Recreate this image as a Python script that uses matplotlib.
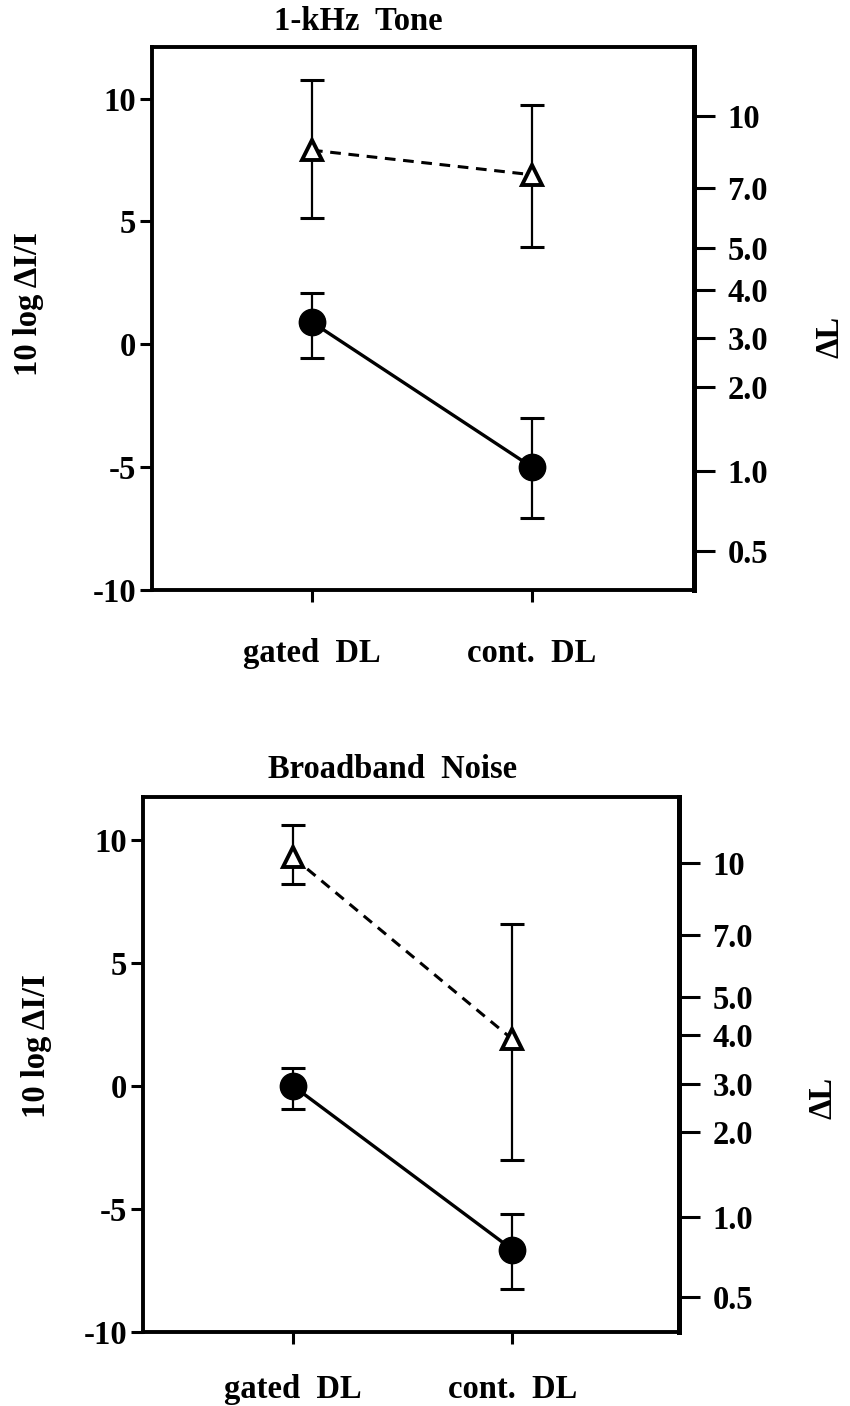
import matplotlib
matplotlib.use("Agg")
import matplotlib.pyplot as plt

# ---------------- data ----------------
categories = ["gated  DL", "cont.  DL"]
x_pos = [0, 1]

panel_titles = ["1-kHz  Tone", "Broadband  Noise"]

# 1-kHz tone
tone_open_mean = [7.9, 6.9]
tone_open_lo = [5.15, 3.95]
tone_open_hi = [10.75, 9.75]
tone_filled_mean = [0.9, -5.0]
tone_filled_lo = [-0.55, -7.05]
tone_filled_hi = [2.1, -3.0]

# broadband noise
noise_open_mean = [9.3, 1.9]
noise_open_lo = [8.2, -3.0]
noise_open_hi = [10.6, 6.6]
noise_filled_mean = [0.0, -6.65]
noise_filled_lo = [-0.95, -8.25]
noise_filled_hi = [0.75, -5.2]

left_ticks = [-10, -5, 0, 5, 10]
left_labels = ["-10", "-5", "0", "5", "10"]

right_labels = ["0.5", "1.0", "2.0", "3.0", "4.0", "5.0", "7.0", "10"]
right_pos_tone = [-8.41, -5.15, -1.73, 0.26, 2.22, 3.93, 6.37, 9.31]
right_pos_noise = [-8.58, -5.33, -1.87, 0.08, 2.07, 3.62, 6.14, 9.07]

ylabel_left = "10 log ΔI/I"
ylabel_right = "ΔL"

# ---------------- figure ----------------
W, H = 850, 1406
fig = plt.figure(figsize=(W / 100, H / 100), dpi=100)
FONT = "Liberation Serif"
FS = 23.5


def box(l, r, t, b):
    return [l / W, 1 - b / H, (r - l) / W, (b - t) / H]


def ftext(x, y, s, **kw):
    fig.text(x / W, 1 - y / H, s, fontfamily=FONT, fontweight="bold",
             fontsize=FS, ha="center", va="center", **kw)


def draw_panel(rect, xlim, ylim, om, olo, ohi, fm, flo, fhi, rpos, xpad):
    ax = fig.add_axes(rect)
    # error bars
    for m, lo, hi in ((om, olo, ohi), (fm, flo, fhi)):
        yerr = [[mm - l for mm, l in zip(m, lo)], [h - mm for mm, h in zip(m, hi)]]
        ax.errorbar(x_pos, m, yerr=yerr, fmt="none", ecolor="black",
                    elinewidth=1.6, capsize=8.5, capthick=2.2, zorder=2)
    # lines
    ax.plot(x_pos, om, color="black", lw=2.2, ls=(0, (3.5, 2.5)), zorder=3)
    ax.plot(x_pos, fm, color="black", lw=2.4, ls="-", zorder=3)
    # markers
    ax.plot(x_pos, om, ls="none", marker="^", ms=15, mfc="white",
            mec="black", mew=2.8, zorder=4)
    ax.plot(x_pos, fm, ls="none", marker="o", ms=19, mfc="black",
            mec="black", zorder=4)

    ax.set_xlim(*xlim)
    ax.set_ylim(*ylim)
    ax.set_yticks(left_ticks)
    ax.set_yticklabels(left_labels)
    ax.set_xticks(x_pos)
    ax.set_xticklabels(categories)
    ax.tick_params(axis="y", direction="out", length=8.5, width=2.2, pad=3,
                   labelsize=FS)
    ax.tick_params(axis="x", direction="out", length=8.5, width=2.2, pad=xpad,
                   labelsize=FS)
    for lab in ax.get_xticklabels() + ax.get_yticklabels():
        lab.set_fontfamily(FONT)
        lab.set_fontweight("bold")
    for s in ("left", "top", "bottom"):
        ax.spines[s].set_linewidth(2.8)
    ax.spines["right"].set_visible(False)

    ax2 = ax.twinx()
    ax2.set_ylim(*ylim)
    ax2.set_yticks(rpos)
    ax2.set_yticklabels(right_labels)
    ax2.tick_params(axis="y", direction="out", length=15, width=2.2, pad=9,
                    labelsize=FS)
    for lab in ax2.get_yticklabels():
        lab.set_fontfamily(FONT)
        lab.set_fontweight("bold")
    for s in ("left", "top", "bottom"):
        ax2.spines[s].set_visible(False)
    ax2.spines["right"].set_linewidth(3.6)
    return ax


draw_panel(box(152, 694, 47, 590), (-0.727, 1.736), (-10, 12.1),
           tone_open_mean, tone_open_lo, tone_open_hi,
           tone_filled_mean, tone_filled_lo, tone_filled_hi, right_pos_tone, 26)
draw_panel(box(143, 679, 797, 1332), (-0.685, 1.76), (-10, 11.75),
           noise_open_mean, noise_open_lo, noise_open_hi,
           noise_filled_mean, noise_filled_lo, noise_filled_hi, right_pos_noise, 22)

ftext(358, 22, panel_titles[0])
ftext(393, 770, panel_titles[1])
ftext(29, 304, ylabel_left, rotation=90)
ftext(37, 1046, ylabel_left, rotation=90)
ftext(830, 337, ylabel_right, rotation=90)
ftext(823, 1098, ylabel_right, rotation=90)

fig.savefig("out.png", dpi=100)
